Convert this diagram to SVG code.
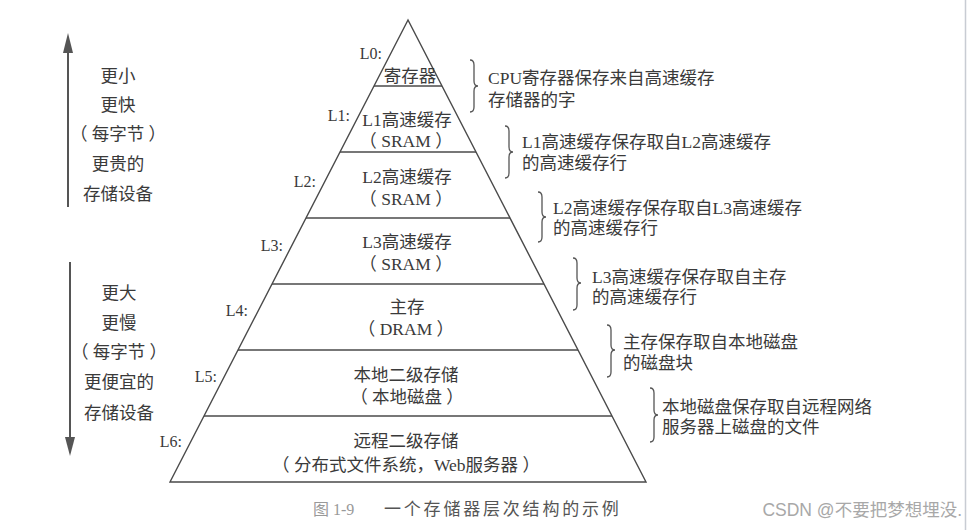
<svg xmlns="http://www.w3.org/2000/svg" width="968" height="530" viewBox="0 0 968 530">
<defs>
<style>
.ln{stroke:#4a4a4a;stroke-width:1.4;fill:none}
.br{stroke:#555;stroke-width:1.3;fill:none}
.ar{stroke:#555;stroke-width:2;fill:none}
.t{font-family:"Liberation Serif","Noto Sans CJK SC",serif;font-size:17.5px;fill:#3a3a3a}
.c{text-anchor:middle}
.lv{font-family:"Liberation Serif","Noto Sans CJK SC",serif;font-size:16px;fill:#3a3a3a;text-anchor:end}
</style>
</defs>
<rect width="968" height="530" fill="#fff"/>
<line x1="965.5" y1="0" x2="965.5" y2="530" stroke="#c8ccd3" stroke-width="1.5"/>

<g id="pyramid">
<polygon class="ln" points="408,20 170,482 646,482"/>
<line class="ln" x1="374" y1="86" x2="442" y2="86"/>
<line class="ln" x1="340" y1="152" x2="476" y2="152"/>
<line class="ln" x1="306" y1="218" x2="510" y2="218"/>
<line class="ln" x1="272" y1="284" x2="544" y2="284"/>
<line class="ln" x1="238" y1="350" x2="578" y2="350"/>
<line class="ln" x1="204" y1="416" x2="612" y2="416"/>
</g>

<g id="L0"><text class="lv" x="382" y="59">L0:</text><text class="t c" x="410" y="82">寄存器</text></g>
<g id="L1"><text class="lv" x="350" y="121">L1:</text><text class="t c" x="407" y="126">L1高速缓存</text><text class="t c" x="406" y="147" xml:space="preserve">（ SRAM ）</text></g>
<g id="L2"><text class="lv" x="316" y="187">L2:</text><text class="t c" x="407" y="183">L2高速缓存</text><text class="t c" x="406" y="205" xml:space="preserve">（ SRAM ）</text></g>
<g id="L3"><text class="lv" x="283" y="251">L3:</text><text class="t c" x="407" y="248">L3高速缓存</text><text class="t c" x="406" y="270" xml:space="preserve">（ SRAM ）</text></g>
<g id="L4"><text class="lv" x="248" y="316">L4:</text><text class="t c" x="407" y="313">主存</text><text class="t c" x="406" y="335" xml:space="preserve">（ DRAM ）</text></g>
<g id="L5"><text class="lv" x="217" y="382">L5:</text><text class="t c" x="406" y="381">本地二级存储</text><text class="t c" x="407" y="403" xml:space="preserve">（ 本地磁盘 ）</text></g>
<g id="L6"><text class="lv" x="182" y="447">L6:</text><text class="t c" x="406" y="447">远程二级存储</text><text class="t c" x="406" y="471" xml:space="preserve">（ 分布式文件系统，Web服务器 ）</text></g>

<g id="connectors">
<path class="br" d="M470,60 Q474,60 474,65 L474,81 Q474,86 478,86 Q474,86 474,91 L474,107 Q474,112 470,112"/>
<path class="br" d="M505,126 Q509,126 509,131 L509,147 Q509,152 513,152 Q509,152 509,157 L509,173 Q509,178 505,178"/>
<path class="br" d="M538,192 Q542,192 542,197 L542,212 Q542,217 546,217 Q542,217 542,222 L542,237 Q542,242 538,242"/>
<path class="br" d="M573,258 Q577,258 577,263 L577,278 Q577,283 581,283 Q577,283 577,288 L577,305 Q577,310 573,310"/>
<path class="br" d="M607,325 Q611,325 611,330 L611,345 Q611,350 615,350 Q611,350 611,355 L611,372 Q611,377 607,377"/>
<path class="br" d="M650,388 Q654,388 654,393 L654,410 Q654,415 658,415 Q654,415 654,420 L654,437 Q654,442 650,442"/>
<line class="ar" x1="68" y1="207" x2="68" y2="50"/>
<polygon points="68,33 63,53 73,53" fill="#555"/>
<line class="ar" x1="70" y1="262" x2="70" y2="440"/>
<polygon points="70,456 65,437 75,437" fill="#555"/>
</g>

<g id="notes">
<text class="t" x="488" y="84">CPU寄存器保存来自高速缓存</text>
<text class="t" x="488" y="106">存储器的字</text>
<text class="t" x="522" y="148">L1高速缓存保存取自L2高速缓存</text>
<text class="t" x="522" y="169">的高速缓存行</text>
<text class="t" x="553" y="214">L2高速缓存保存取自L3高速缓存</text>
<text class="t" x="553" y="234">的高速缓存行</text>
<text class="t" x="592" y="283">L3高速缓存保存取自主存</text>
<text class="t" x="592" y="303">的高速缓存行</text>
<text class="t" x="623" y="348">主存保存取自本地磁盘</text>
<text class="t" x="623" y="369">的磁盘块</text>
<text class="t" x="662" y="413">本地磁盘保存取自远程网络</text>
<text class="t" x="662" y="433">服务器上磁盘的文件</text>
</g>

<g id="side">
<text class="t c" x="118" y="82">更小</text>
<text class="t c" x="118" y="111">更快</text>
<text class="t c" x="118" y="140" xml:space="preserve">（ 每字节 ）</text>
<text class="t c" x="118" y="170">更贵的</text>
<text class="t c" x="118" y="200">存储设备</text>
<text class="t c" x="119" y="299">更大</text>
<text class="t c" x="119" y="329">更慢</text>
<text class="t c" x="119" y="358" xml:space="preserve">（ 每字节 ）</text>
<text class="t c" x="119" y="388">更便宜的</text>
<text class="t c" x="119" y="419">存储设备</text>
</g>

<g id="caption">
<text x="313" y="515" style="font-family:'Liberation Serif','Noto Sans CJK SC',serif;font-size:16px;fill:#999">图 1-9</text>
<text x="384" y="515" style="font-family:'Liberation Serif','Noto Sans CJK SC',serif;font-size:17px;fill:#555;letter-spacing:2.8px">一个存储器层次结构的示例</text>
<text x="962" y="516" text-anchor="end" style="font-family:'Liberation Sans','Noto Sans CJK SC',sans-serif;font-size:17.5px;fill:#a8a8a8">CSDN @不要把梦想埋没.</text>
</g>
</svg>
